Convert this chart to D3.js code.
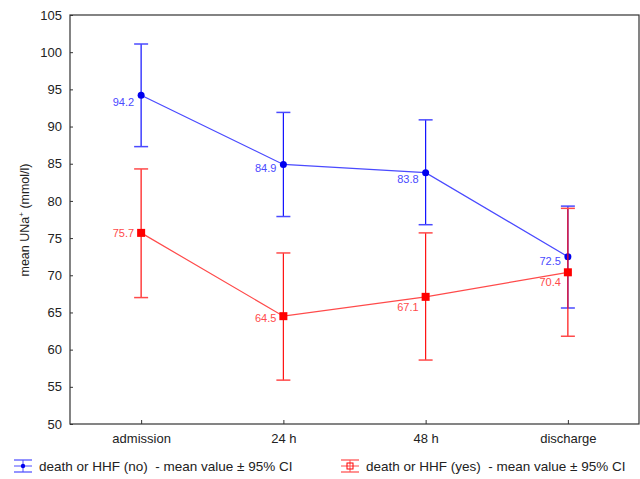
<!DOCTYPE html>
<html>
<head>
<meta charset="utf-8">
<script src="https://cdn.jsdelivr.net/npm/d3@7"></script>
<style>
  body { margin: 0; background: #fff; }
  text { font-family: "Liberation Sans", Arial, sans-serif; }
</style>
</head>
<body>
<div id="chart"></div>
<script>
// categories on x
var categories = ["admission", "24 h", "48 h", "discharge"];
// y tick labels
var yTicks = [50, 55, 60, 65, 70, 75, 80, 85, 90, 95, 100, 105];

// death or HHF (no)
var noMean  = [94.2, 84.9, 83.8, 72.5];
var noLow   = [87.3, 77.9, 76.8, 65.6];
var noHigh  = [101.1, 91.9, 90.9, 79.3];
// death or HHF (yes)
var yesMean = [75.7, 64.5, 67.1, 70.4];
var yesLow  = [67.0, 55.9, 58.6, 61.8];
var yesHigh = [84.3, 73.0, 75.7, 79.0];

var seriesNames = ["death or HHF (no)  - mean value \u00b1 95% CI",
                   "death or HHF (yes)  - mean value \u00b1 95% CI"];

function draw() {
  var width = 640, height = 479;
  var pLeft = 70, pRight = 639, pTop = 15, pBottom = 424;

  var svg = d3.select("#chart").append("svg")
      .attr("width", width)
      .attr("height", height);

  var x = d3.scalePoint()
      .domain(categories)
      .range([pLeft, pRight])
      .padding(0.5);

  var y = d3.scaleLinear()
      .domain([50, 105])
      .range([pBottom, pTop]);

  // frame
  svg.append("rect")
      .attr("x", pLeft).attr("y", pTop)
      .attr("width", pRight - pLeft).attr("height", pBottom - pTop)
      .attr("fill", "none")
      .attr("stroke", "#333")
      .attr("stroke-width", 1.2);

  // y axis (inner ticks)
  var yAxis = d3.axisLeft(y).tickValues(yTicks).tickSize(-3).tickPadding(8);
  var gy = svg.append("g")
      .attr("transform", "translate(" + pLeft + ",0)")
      .call(yAxis);
  gy.select(".domain").remove();
  gy.selectAll("line").attr("stroke", "#333");
  gy.selectAll("text").style("font-size", "13px").attr("fill", "#222");

  // x axis
  var xAxis = d3.axisBottom(x).tickSize(-4).tickPadding(10);
  var gx = svg.append("g")
      .attr("transform", "translate(0," + pBottom + ")")
      .call(xAxis);
  gx.select(".domain").remove();
  gx.selectAll("line").attr("stroke", "#333");
  gx.selectAll("text").style("font-size", "13px").attr("fill", "#222");

  // y title
  svg.append("text")
      .attr("transform", "translate(29,220) rotate(-90)")
      .attr("text-anchor", "middle")
      .style("font-size", "12.5px")
      .attr("fill", "#222")
      .html('mean UNa<tspan dy="-5" style="font-size:8px">+</tspan><tspan dy="5"> (mmol/l)</tspan>');

  var series = [
    {mean: noMean, low: noLow, high: noHigh, color: "#1010ff", line: "#4a4aff", marker: "circle",
     labelDy: [11, 8, 10, 8]},
    {mean: yesMean, low: yesLow, high: yesHigh, color: "#ff1010", line: "#ff4a4a", marker: "square",
     labelDy: [4, 6, 14, 14]}
  ];

  series.forEach(function(s) {
    var pts = categories.map(function(c, i) {
      return {c: c, m: s.mean[i], lo: s.low[i], hi: s.high[i], dy: s.labelDy[i]};
    });
    var g = svg.append("g");

    // error bars
    g.selectAll(".err").data(pts).enter().append("line")
        .attr("x1", function(d) { return x(d.c); })
        .attr("x2", function(d) { return x(d.c); })
        .attr("y1", function(d) { return y(d.lo); })
        .attr("y2", function(d) { return y(d.hi); })
        .attr("stroke", s.color).attr("stroke-width", 1.2);
    ["lo", "hi"].forEach(function(k) {
      g.selectAll(".cap" + k).data(pts).enter().append("line")
          .attr("x1", function(d) { return x(d.c) - 7; })
          .attr("x2", function(d) { return x(d.c) + 7; })
          .attr("y1", function(d) { return y(d[k]); })
          .attr("y2", function(d) { return y(d[k]); })
          .attr("stroke", s.line).attr("stroke-width", 1.5);
    });

    // mean line
    g.append("path")
        .datum(pts)
        .attr("d", d3.line().x(function(d) { return x(d.c); }).y(function(d) { return y(d.m); }))
        .attr("fill", "none")
        .attr("stroke", s.line).attr("stroke-width", 1.2);

    // markers
    if (s.marker === "circle") {
      g.selectAll(".pt").data(pts).enter().append("circle")
          .attr("cx", function(d) { return x(d.c); })
          .attr("cy", function(d) { return y(d.m); })
          .attr("r", 3.5)
          .attr("fill", "#0000ee");
    } else {
      g.selectAll(".pt").data(pts).enter().append("rect")
          .attr("x", function(d) { return x(d.c) - 4; })
          .attr("y", function(d) { return y(d.m) - 4; })
          .attr("width", 8).attr("height", 8)
          .attr("fill", "#ff0000");
    }

    // value labels
    g.selectAll(".lbl").data(pts).enter().append("text")
        .attr("x", function(d) { return x(d.c) - 7; })
        .attr("y", function(d) { return y(d.m) + d.dy; })
        .attr("text-anchor", "end")
        .style("font-size", "11px")
        .attr("fill", s.line)
        .text(function(d) { return d.m.toFixed(1); });
  });

  // legend
  var legX = [14, 341];
  series.forEach(function(s, i) {
    var lg = svg.append("g").attr("transform", "translate(" + legX[i] + ",466)");
    lg.append("line").attr("x1", 0).attr("x2", 18).attr("y1", -6).attr("y2", -6).attr("stroke", s.line).attr("stroke-width", 1.2);
    lg.append("line").attr("x1", 0).attr("x2", 18).attr("y1", 6).attr("y2", 6).attr("stroke", s.line).attr("stroke-width", 1.2);
    lg.append("line").attr("x1", 0).attr("x2", 18).attr("y1", 0).attr("y2", 0).attr("stroke", s.line).attr("stroke-width", 1);
    lg.append("line").attr("x1", 9).attr("x2", 9).attr("y1", -6).attr("y2", 6).attr("stroke", s.line).attr("stroke-width", 1);
    if (s.marker === "circle") {
      lg.append("circle").attr("cx", 9).attr("cy", 0).attr("r", 2.2).attr("fill", "#0000ee");
    } else {
      lg.append("rect").attr("x", 6).attr("y", -3).attr("width", 6).attr("height", 6)
          .attr("fill", "none").attr("stroke", "#ff0000").attr("stroke-width", 1);
    }
    lg.append("text")
        .attr("x", 25).attr("y", 4.5)
        .style("font-size", "13.5px")
        .style("white-space", "pre")
        .attr("fill", "#222")
        .text(seriesNames[i]);
  });
}

draw();
</script>
</body>
</html>
